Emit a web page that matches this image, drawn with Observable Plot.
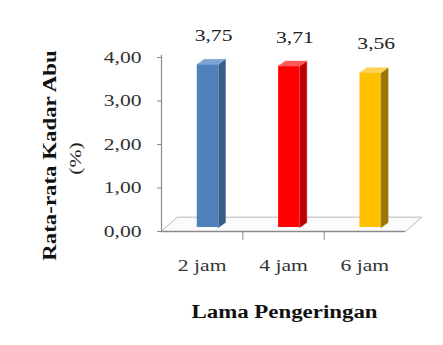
<!DOCTYPE html>
<html>
<head>
<meta charset="utf-8">
<script src="https://cdn.jsdelivr.net/npm/d3@7"></script>
<script src="https://cdn.jsdelivr.net/npm/@observablehq/plot@0.6"></script>
<style>
  html, body { margin: 0; padding: 0; background: #fff; }
</style>
</head>
<body>
<div id="chart"></div>
<script>
// Average ash content by drying time
const categories = ["2 jam", "4 jam", "6 jam"];
const values = [3.75, 3.71, 3.56];
const yTicks = [0, 1, 2, 3, 4];
const frontColors = ["#4f81bd", "#ff0000", "#ffc000"];
const sideColors = ["#385d8a", "#bf0000", "#9a7600"];
const topColors = ["#7fa4d2", "#ff5a5a", "#ffd357"];
const yTitle = "Rata-rata Kadar Abu";
const yUnit = "(%)";
const xTitle = "Lama Pengeringan";

const fmt = v => v.toFixed(2).replace(".", ",");

// bar geometry in category units (x) and value units (y)
const x0 = 0.44, x1 = 0.70;     // front face span inside each band
const sd = 0.086, se = 0.115;   // bar depth offset
const fd = 0.2, fe = 0.33;      // floor depth offset

const bars = categories.map((c, i) => ({c, i, v: values[i]}));

const sideFaces = bars.flatMap(b => [
  [b.i + x1, 0], [b.i + x1 + sd, se], [b.i + x1 + sd, b.v + se], [b.i + x1, b.v]
].map(([x, y]) => ({x, y, z: "s" + b.i, col: sideColors[b.i]})));

const topFaces = bars.flatMap(b => [
  [b.i + x0, b.v], [b.i + x1, b.v], [b.i + x1 + sd, b.v + se], [b.i + x0 + sd, b.v + se]
].map(([x, y]) => ({x, y, z: "t" + b.i, col: topColors[b.i]})));

const n = categories.length;
const floor = [[0, 0], [n, 0], [n + fd, fe], [fd, fe]].map(([x, y]) => ({x, y}));

const chart = Plot.plot({
  width: 443,
  height: 345,
  marginLeft: 161,
  marginRight: 38,
  marginTop: 57,
  marginBottom: 114,
  style: {fontFamily: "Liberation Serif", background: "#fff", color: "#222"},
  x: {type: "linear", domain: [0, n], label: null},
  y: {domain: [0, 4], label: null},
  marks: [
    // floor
    Plot.line(floor, {x: "x", y: "y", curve: "linear-closed", stroke: "#b8b8b8", strokeWidth: 1, fill: "#fbfbfb"}),
    Plot.ruleY([0], {x1: 0, x2: n, stroke: "#8a8a8a", strokeWidth: 1.5}),
    // value axis
    Plot.ruleX([0], {y1: 0, y2: 4.05, stroke: "#8a8a8a", strokeWidth: 1.2}),
    Plot.axisY({ticks: yTicks, tickFormat: fmt, tickSize: 4, tickPadding: 16, fontSize: 17, stroke: "#8a8a8a", fill: "#333", label: null}),
    // category separators and labels
    Plot.axisX({ticks: d3.range(1, n), tickFormat: () => "", tickSize: 9, stroke: "#8a8a8a", label: null}),
    Plot.axisX({ticks: bars.map(b => b.i + 0.5), tickFormat: (d) => categories[Math.floor(d)], tickSize: 0, tickPadding: 27, fontSize: 17, fill: "#333", label: null}),
    // bars: front, side, top faces
    Plot.rect(bars, {x1: d => d.i + x0, x2: d => d.i + x1, y1: 0, y2: "v", fill: (d) => frontColors[d.i], dy: -4}),
    Plot.line(sideFaces, {x: "x", y: "y", z: "z", fill: "col", stroke: "col", strokeWidth: 0.5, curve: "linear-closed", dy: -4}),
    Plot.line(topFaces, {x: "x", y: "y", z: "z", fill: "col", stroke: "col", strokeWidth: 0.5, curve: "linear-closed", dy: -4}),
    // value labels
    Plot.text(bars, {x: d => d.i + 0.64, y: "v", text: d => fmt(d.v), dy: -33, fontSize: 17, fill: "#222"}),
    // axis titles
    Plot.text([yTitle], {frameAnchor: "left", textAnchor: "middle", lineAnchor: "middle", dx: -111, dy: 11, rotate: -90, fontSize: 18, fontWeight: "bold", fill: "#111"}),
    Plot.text([yUnit], {frameAnchor: "left", textAnchor: "middle", lineAnchor: "middle", dx: -86, dy: 14, rotate: -90, fontSize: 17, fill: "#222"}),
    Plot.text([xTitle], {frameAnchor: "bottom", textAnchor: "middle", lineAnchor: "middle", dx: 1, dy: 81, fontSize: 18, fontWeight: "bold", fill: "#111"})
  ]
});

document.getElementById("chart").append(chart);

// widen the serif lettering
d3.select(chart).selectAll("text").each(function() {
  const len = this.getComputedTextLength();
  if (len > 0) {
    this.setAttribute("textLength", (len * 1.27).toFixed(1));
    this.setAttribute("lengthAdjust", "spacingAndGlyphs");
  }
});
</script>
</body>
</html>
